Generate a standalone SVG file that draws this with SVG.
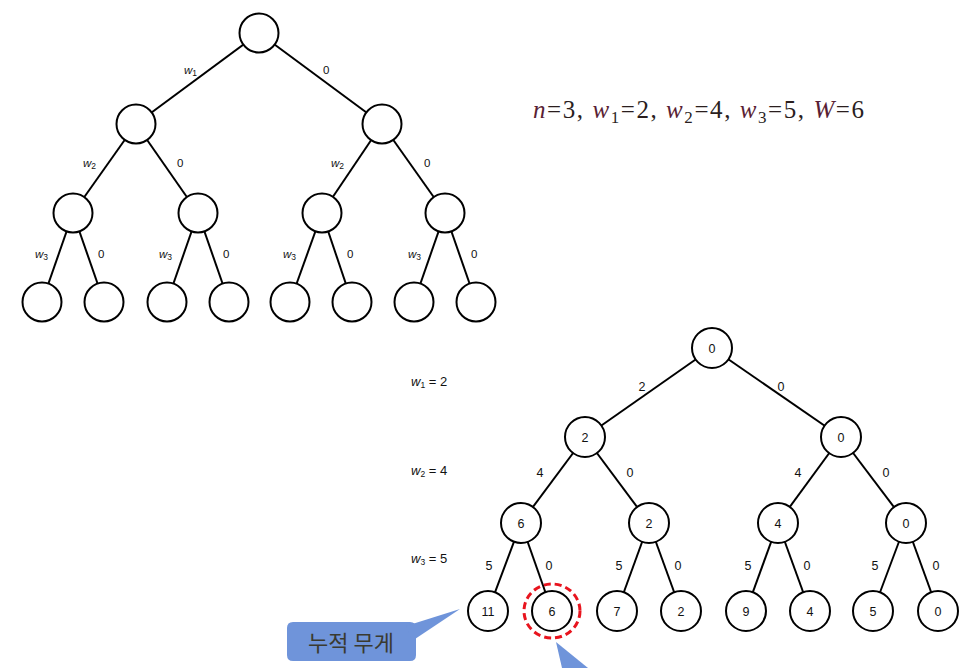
<svg xmlns="http://www.w3.org/2000/svg" width="969" height="668" viewBox="0 0 969 668">
<style>
.e{stroke:#000;stroke-width:2;fill:none}
.n{fill:#fff;stroke:#000;stroke-width:2}
.t{font-family:"Liberation Sans",Arial,sans-serif;font-size:11.5px;fill:#111}
.wl{font-family:"Liberation Sans",Arial,sans-serif;font-size:13px;fill:#111}
.b{font-family:"Liberation Sans",Arial,sans-serif;font-size:12.5px;fill:#111;text-anchor:middle}
.it{font-style:italic}
.sub{font-size:8.5px}
.eq{font-family:"Liberation Serif","Times New Roman",serif;font-size:25px;fill:#2a1e1e}
.ei{font-style:italic;fill:#5a1f35}
.callout{fill:#6f94da}
</style>
<rect width="969" height="668" fill="#fff"/>
<g id="connectors">
<line class="e" x1="259" y1="33" x2="136" y2="124"/>
<line class="e" x1="259" y1="33" x2="382" y2="124"/>
<line class="e" x1="136" y1="124" x2="73" y2="213"/>
<line class="e" x1="136" y1="124" x2="198" y2="213"/>
<line class="e" x1="382" y1="124" x2="322" y2="213"/>
<line class="e" x1="382" y1="124" x2="445" y2="213"/>
<line class="e" x1="73" y1="213" x2="42" y2="302"/>
<line class="e" x1="73" y1="213" x2="104" y2="302"/>
<line class="e" x1="198" y1="213" x2="167" y2="302"/>
<line class="e" x1="198" y1="213" x2="229" y2="302"/>
<line class="e" x1="322" y1="213" x2="290" y2="302"/>
<line class="e" x1="322" y1="213" x2="352" y2="302"/>
<line class="e" x1="445" y1="213" x2="414" y2="302"/>
<line class="e" x1="445" y1="213" x2="476" y2="302"/>
<line class="e" x1="712" y1="348" x2="585" y2="437"/>
<line class="e" x1="712" y1="348" x2="841" y2="437"/>
<line class="e" x1="585" y1="437" x2="521" y2="523"/>
<line class="e" x1="585" y1="437" x2="649" y2="523"/>
<line class="e" x1="841" y1="437" x2="778" y2="523"/>
<line class="e" x1="841" y1="437" x2="906" y2="523"/>
<line class="e" x1="521" y1="523" x2="488" y2="611"/>
<line class="e" x1="521" y1="523" x2="552" y2="611"/>
<line class="e" x1="649" y1="523" x2="617" y2="611"/>
<line class="e" x1="649" y1="523" x2="681" y2="611"/>
<line class="e" x1="778" y1="523" x2="746" y2="611"/>
<line class="e" x1="778" y1="523" x2="810" y2="611"/>
<line class="e" x1="906" y1="523" x2="873" y2="611"/>
<line class="e" x1="906" y1="523" x2="938" y2="611"/>
</g>
<g id="edge-labels-top">
<text class="t" x="184" y="74"><tspan class="it">w</tspan><tspan class="sub" dy="2">1</tspan></text>
<text class="t" x="323" y="74">0</text>
<text class="t" x="83" y="167"><tspan class="it">w</tspan><tspan class="sub" dy="2">2</tspan></text>
<text class="t" x="177" y="167">0</text>
<text class="t" x="331" y="167"><tspan class="it">w</tspan><tspan class="sub" dy="2">2</tspan></text>
<text class="t" x="424" y="167">0</text>
<text class="t" x="35" y="258"><tspan class="it">w</tspan><tspan class="sub" dy="2">3</tspan></text>
<text class="t" x="98" y="258">0</text>
<text class="t" x="159" y="258"><tspan class="it">w</tspan><tspan class="sub" dy="2">3</tspan></text>
<text class="t" x="223" y="258">0</text>
<text class="t" x="283" y="258"><tspan class="it">w</tspan><tspan class="sub" dy="2">3</tspan></text>
<text class="t" x="347" y="258">0</text>
<text class="t" x="408" y="258"><tspan class="it">w</tspan><tspan class="sub" dy="2">3</tspan></text>
<text class="t" x="471" y="258">0</text>
</g>
<g id="top-tree-nodes">
<circle id="t-root" class="n" cx="259" cy="33" r="19.5"/>
<circle id="t-l1a" class="n" cx="136" cy="124" r="19.5"/>
<circle id="t-l1b" class="n" cx="382" cy="124" r="19.5"/>
<circle id="t-l2a" class="n" cx="73" cy="213" r="19.5"/>
<circle id="t-l2b" class="n" cx="198" cy="213" r="19.5"/>
<circle id="t-l2c" class="n" cx="322" cy="213" r="19.5"/>
<circle id="t-l2d" class="n" cx="445" cy="213" r="19.5"/>
<circle id="t-l3a" class="n" cx="42" cy="302" r="19.5"/>
<circle id="t-l3b" class="n" cx="104" cy="302" r="19.5"/>
<circle id="t-l3c" class="n" cx="167" cy="302" r="19.5"/>
<circle id="t-l3d" class="n" cx="229" cy="302" r="19.5"/>
<circle id="t-l3e" class="n" cx="290" cy="302" r="19.5"/>
<circle id="t-l3f" class="n" cx="352" cy="302" r="19.5"/>
<circle id="t-l3g" class="n" cx="414" cy="302" r="19.5"/>
<circle id="t-l3h" class="n" cx="476" cy="302" r="19.5"/>
</g>
<g id="equation">
<text class="eq" x="533" y="118" textLength="331" lengthAdjust="spacing"><tspan class="ei">n</tspan>=3, <tspan class="ei">w</tspan><tspan font-size="17" dy="5">1</tspan><tspan dy="-5">=2, </tspan><tspan class="ei">w</tspan><tspan font-size="17" dy="5">2</tspan><tspan dy="-5">=4, </tspan><tspan class="ei">w</tspan><tspan font-size="17" dy="5">3</tspan><tspan dy="-5">=5, </tspan><tspan class="ei">W</tspan>=6</text>
</g>
<g id="weight-labels">
<text class="wl" x="411" y="386"><tspan class="it">w</tspan><tspan class="sub" dy="2">1</tspan><tspan dy="-2"> = 2</tspan></text>
<text class="wl" x="411" y="475"><tspan class="it">w</tspan><tspan class="sub" dy="2">2</tspan><tspan dy="-2"> = 4</tspan></text>
<text class="wl" x="411" y="563"><tspan class="it">w</tspan><tspan class="sub" dy="2">3</tspan><tspan dy="-2"> = 5</tspan></text>
</g>
<g id="edge-labels-bottom">
<text class="b" x="642" y="391">2</text>
<text class="b" x="781" y="391">0</text>
<text class="b" x="540" y="477">4</text>
<text class="b" x="630" y="477">0</text>
<text class="b" x="798" y="477">4</text>
<text class="b" x="886" y="477">0</text>
<text class="b" x="489" y="570">5</text>
<text class="b" x="549" y="570">0</text>
<text class="b" x="619" y="570">5</text>
<text class="b" x="678" y="570">0</text>
<text class="b" x="748" y="570">5</text>
<text class="b" x="807" y="570">0</text>
<text class="b" x="875" y="570">5</text>
<text class="b" x="936" y="570">0</text>
</g>
<g id="b-root"><circle class="n" cx="712" cy="348" r="20"/><text class="b" x="712" y="353">0</text></g>
<g id="b-l1a"><circle class="n" cx="585" cy="437" r="20"/><text class="b" x="585" y="442">2</text></g>
<g id="b-l1b"><circle class="n" cx="841" cy="437" r="20"/><text class="b" x="841" y="442">0</text></g>
<g id="b-l2a"><circle class="n" cx="521" cy="523" r="20"/><text class="b" x="521" y="528">6</text></g>
<g id="b-l2b"><circle class="n" cx="649" cy="523" r="20"/><text class="b" x="649" y="528">2</text></g>
<g id="b-l2c"><circle class="n" cx="778" cy="523" r="20"/><text class="b" x="778" y="528">4</text></g>
<g id="b-l2d"><circle class="n" cx="906" cy="523" r="20"/><text class="b" x="906" y="528">0</text></g>
<g id="b-l3a"><circle class="n" cx="488" cy="611" r="20"/><text class="b" x="488" y="616">11</text></g>
<g id="b-l3b"><circle class="n" cx="552" cy="611" r="20"/><text class="b" x="552" y="616">6</text></g>
<g id="b-l3c"><circle class="n" cx="617" cy="611" r="20"/><text class="b" x="617" y="616">7</text></g>
<g id="b-l3d"><circle class="n" cx="681" cy="611" r="20"/><text class="b" x="681" y="616">2</text></g>
<g id="b-l3e"><circle class="n" cx="746" cy="611" r="20"/><text class="b" x="746" y="616">9</text></g>
<g id="b-l3f"><circle class="n" cx="810" cy="611" r="20"/><text class="b" x="810" y="616">4</text></g>
<g id="b-l3g"><circle class="n" cx="873" cy="611" r="20"/><text class="b" x="873" y="616">5</text></g>
<g id="b-l3h"><circle class="n" cx="938" cy="611" r="20"/><text class="b" x="938" y="616">0</text></g>
<g id="highlight">
<ellipse cx="552" cy="611" rx="28" ry="27" fill="none" stroke="#e8141e" stroke-width="3" stroke-dasharray="7 4"/>
</g>
<g id="callout-cumulative">
<path class="callout" d="M293,622 H410 Q416,622 416,628 V655 Q416,661 410,661 H293 Q287,661 287,655 V628 Q287,622 293,622 Z"/>
<polygon class="callout" points="406,626 460,609 412,641"/>
<text x="351" y="651" text-anchor="middle" font-family="'Noto Sans CJK KR','Noto Sans',sans-serif" font-size="22" fill="#3a3a30">누적 무게</text>
</g>
<g id="callout-2">
<polygon class="callout" points="556,642 588,668 562,668"/>
</g>
</svg>
